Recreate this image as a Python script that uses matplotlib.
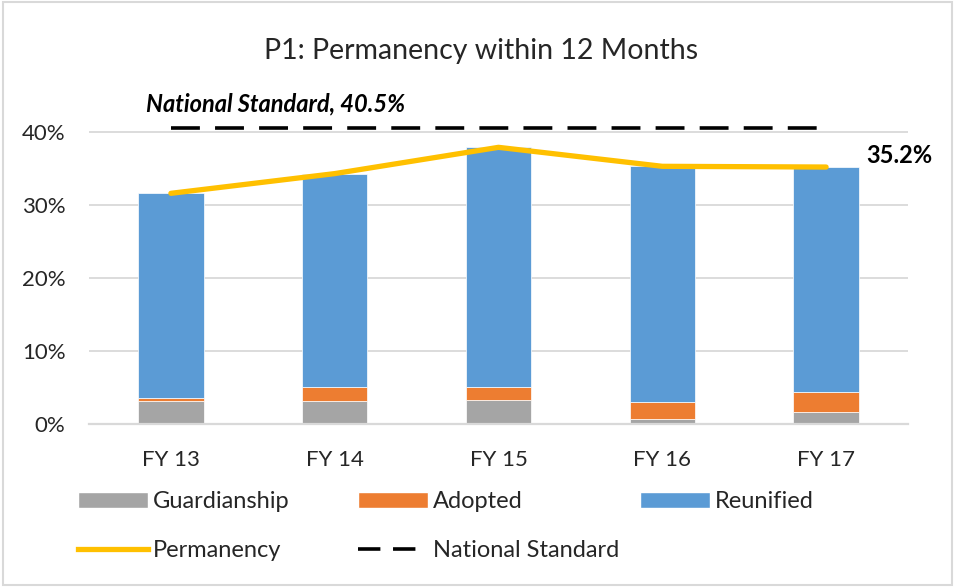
import numpy as np
import matplotlib.pyplot as plt
from matplotlib.patches import Patch, Rectangle
from matplotlib.lines import Line2D
from matplotlib.ticker import PercentFormatter

plt.rcParams['font.family'] = ['Lato', 'DejaVu Sans']

years = ['FY 13', 'FY 14', 'FY 15', 'FY 16', 'FY 17']
guardianship = [0.031, 0.031, 0.033, 0.007, 0.017]
adopted = [0.005, 0.019, 0.017, 0.023, 0.027]
reunified = [0.280, 0.292, 0.329, 0.323, 0.308]
permanency = [0.316, 0.343, 0.379, 0.353, 0.352]
national_standard = 0.405

gray = '#A5A5A5'
orange = '#ED7D31'
blue = '#5B9BD5'
yellow = '#FFC000'

fig = plt.figure(figsize=(9.56, 5.87), dpi=100)
ax = fig.add_axes([0.0931, 0.2777, 0.8567, 0.5596])

x = np.arange(len(years))
w = 0.40
g = np.array(guardianship)
a = np.array(adopted)
r = np.array(reunified)
ax.bar(x, g, w, color=gray, edgecolor='white', linewidth=0.5, zorder=2)
ax.bar(x, a, w, bottom=g, color=orange, edgecolor='white', linewidth=0.5, zorder=2)
ax.bar(x, r, w, bottom=g + a, color=blue, edgecolor='white', linewidth=0.5, zorder=2)

ax.plot(x, permanency, color=yellow, linewidth=3.8, solid_capstyle='round', zorder=3)
ax.plot([x[0], x[-1]], [national_standard] * 2, color='black', linewidth=2.6,
        dashes=(8, 4.2), zorder=3)

ax.text(0.636, 0.438, 'National Standard, 40.5%', fontsize=17, fontweight='bold',
        fontstyle='italic', ha='center', va='center')
ax.annotate('35.2%', xy=(x[-1], permanency[-1]), xytext=(29, 8), textcoords='offset points',
            fontsize=17, fontweight='bold', ha='left', va='center')

ax.set_xlim(-0.5, 4.5)
ax.set_ylim(0, 0.45)
ax.set_yticks([0, 0.1, 0.2, 0.3, 0.4])
ax.yaxis.set_major_formatter(PercentFormatter(1.0, decimals=0))
ax.set_xticks(x)
ax.set_xticklabels(years)
ax.tick_params(axis='both', length=0, labelsize=16, colors='#262626')
ax.tick_params(axis='y', pad=17)
ax.tick_params(axis='x', pad=19)
ax.grid(axis='y', color='#D9D9D9', linewidth=1.3, zorder=0)
ax.set_axisbelow(True)
for s in ['top', 'right', 'left']:
    ax.spines[s].set_visible(False)
ax.spines['bottom'].set_color('#D9D9D9')
ax.spines['bottom'].set_linewidth(1.6)

fig.text(0.503, 0.913, 'P1: Permanency within 12 Months', fontsize=20.5,
         ha='center', va='center', color='#262626')

# legend, laid out in three columns like the original
col1 = [Patch(facecolor=gray, edgecolor='white'), Line2D([], [], color=yellow, linewidth=3.8)]
col2 = [Patch(facecolor=orange, edgecolor='white'),
        Line2D([], [], color='black', linewidth=2.6, dashes=(6.2, 3.5))]
col3 = [Patch(facecolor=blue, edgecolor='white')]
cols = [(col1, ['Guardianship', 'Permanency'], 78),
        (col2, ['Adopted', 'National Standard'], 358),
        (col3, ['Reunified'], 640)]
for handles, labels, xpos in cols:
    fig.legend(handles, labels, loc='upper left', bbox_to_anchor=(xpos / 956, 1 - 491 / 587),
               frameon=False, fontsize=17, borderpad=0, handlelength=2.97, handleheight=0.65,
               handletextpad=0.2, labelspacing=1.2, borderaxespad=0,
               labelcolor='#262626')

fig.patches.append(Rectangle((0.003, 0.004), 0.993, 0.992, transform=fig.transFigure,
                             fill=False, edgecolor='#D9D9D9', linewidth=1.5))

plt.savefig('out.png', dpi=100)
